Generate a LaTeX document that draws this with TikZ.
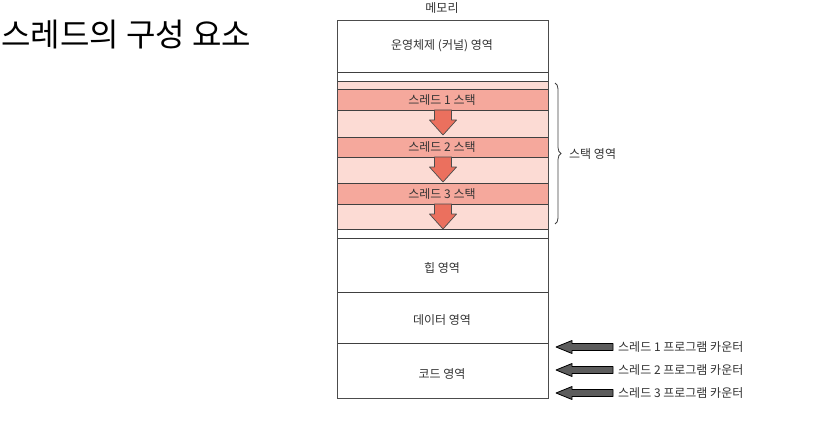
\documentclass[tikz,border=0pt]{standalone}
\usepackage{fontspec}
\setmainfont{Noto Sans CJK KR}
\usetikzlibrary{decorations.pathreplacing}

\begin{document}
\begin{tikzpicture}[x=1pt,y=-1pt]

  \definecolor{stackdark}{rgb}{0.96,0.66,0.61}
  \definecolor{stacklight}{rgb}{0.99,0.86,0.83}
  \definecolor{growcol}{rgb}{0.92,0.44,0.37}
  \definecolor{pccol}{rgb}{0.36,0.36,0.36}
  \definecolor{txtcol}{rgb}{0.2,0.2,0.2}

  \tikzset{
      lbl/.style={font=\fontsize{12}{13}\selectfont,text=txtcol,inner sep=0pt},
      sepline/.style={draw=black!75,line width=0.9pt},
      growarrow/.style={fill=growcol,draw=black!70,line width=0.7pt,line join=round},
      pcarrow/.style={fill=pccol,draw=black,line width=0.8pt,line join=round},
    }

  % fat downward arrow, top centre given
  \newcommand{\growdown}[1]{
    \filldraw[growarrow] (#1) ++(-8.5,0) -- ++(17,0) -- ++(0,10) -- ++(5,0)
      -- ++(-13.5,15) -- ++(-13.5,-15) -- ++(5,0) -- cycle;
  }
  % fat left arrow, tip given
  \newcommand{\pcleft}[1]{
    \filldraw[pcarrow] (#1) -- ++(16,-6.5) -- ++(0,3) -- ++(41,0) -- ++(0,7)
      -- ++(-41,0) -- ++(0,3) -- cycle;
  }

  \useasboundingbox (0,0) rectangle (816,441);

  %% memory box corners.
  \coordinate (mtl) at (337,21);
  \coordinate (mbr) at (548,398);

  \node[font=\fontsize{32}{34}\selectfont,anchor=west,inner sep=0pt] (title) at (1,35) {스레드의 구성 요소};
  \node[lbl] (memlbl) at (442,8) {메모리};

  %% stack area fill.
  \fill[stacklight] (337,81) rectangle (548,229);
  \fill[stackdark] (337,89) rectangle (548,110);
  \fill[stackdark] (337,137) rectangle (548,157);
  \fill[stackdark] (337,183) rectangle (548,204);

  \foreach \yy in {72,81,89,110,137,157,183,204,229,238,292,343}
    \draw[sepline] (337,\yy) -- (548,\yy);

  \draw[line width=1pt,draw=black!70] (mtl) rectangle (mbr);

  \node[lbl] (kernel) at (442,46) {운영체제 (커널) 영역};
  \node[lbl] (stack1) at (442,100) {스레드 1 스택};
  \node[lbl] (stack2) at (442,147) {스레드 2 스택};
  \node[lbl] (stack3) at (442,194) {스레드 3 스택};
  \node[lbl] (heap) at (442,268) {힙 영역};
  \node[lbl] (data) at (442,320) {데이터 영역};
  \node[lbl] (code) at (442,374) {코드 영역};

  %% stack growth.
  \coordinate (g1) at (443,110);
  \coordinate (g2) at (443,157);
  \coordinate (g3) at (443,204);
  \growdown{g1}
  \growdown{g2}
  \growdown{g3}

  \coordinate (bt) at (555,83);
  \coordinate (bb) at (555,224);
  \draw[black!75,line width=0.8pt,decoration={brace,amplitude=6pt},decorate] (bt) -- (bb);
  \node[lbl,anchor=west] (stackarea) at (569,154) {스택 영역};

  %% program counters.
  \coordinate (pc1) at (556,347);
  \coordinate (pc2) at (556,370);
  \coordinate (pc3) at (556,393);
  \pcleft{pc1}
  \pcleft{pc2}
  \pcleft{pc3}

  \node[lbl,anchor=west] (pclbl1) at (618,347) {스레드 1 프로그램 카운터};
  \node[lbl,anchor=west] (pclbl2) at (618,370) {스레드 2 프로그램 카운터};
  \node[lbl,anchor=west] (pclbl3) at (618,393) {스레드 3 프로그램 카운터};

\end{tikzpicture}
\end{document}
